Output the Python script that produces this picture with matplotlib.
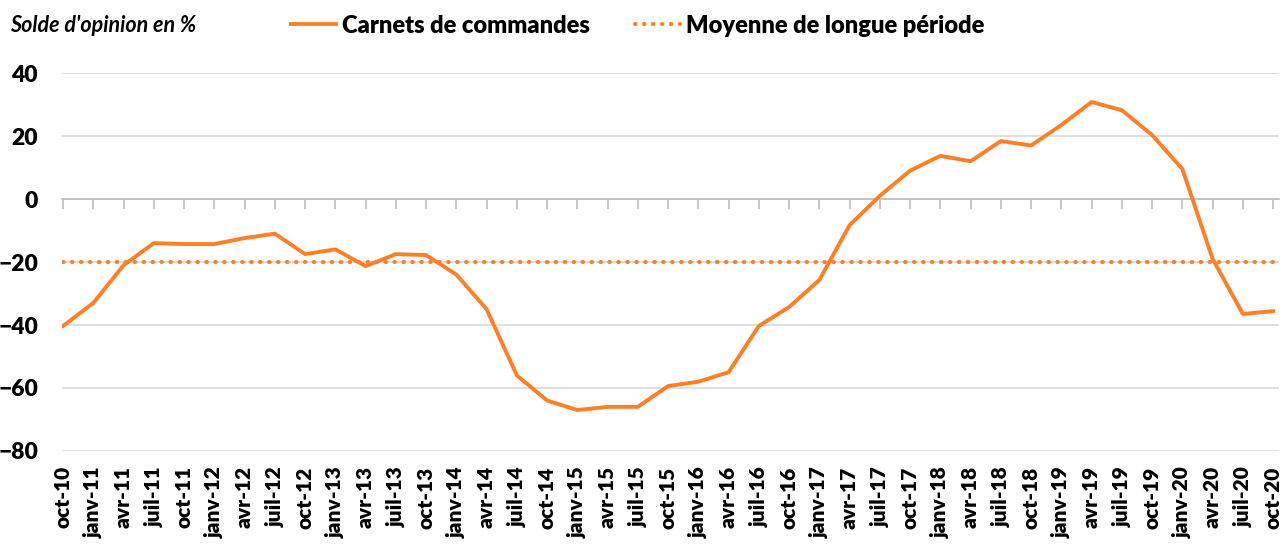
import matplotlib.pyplot as plt
import numpy as np

plt.rcParams['font.family'] = ['Lato', 'DejaVu Sans']

# quarterly dates, oct-10 to oct-20
months = ['oct', 'janv', 'avr', 'juil']
labels = []
for i in range(41):
    m = months[i % 4]
    yr = 10 + (i + 3) // 4
    labels.append(f"{m}-{yr}")

carnets = [-40.3, -33, -21, -14, -14.3, -14.3, -12.4, -11, -17.5, -16,
           -21.3, -17.5, -17.8, -24, -35, -56, -64, -67, -66, -66,
           -59.4, -58, -55, -40.3, -34.3, -25.7, -8.3, 1, 9, 13.7,
           12, 18.4, 17, 23.5, 30.8, 28.2, 20.3, 9.5, -19, -36.5, -35.6]
moyenne = -20

orange = '#FF7F27'
x = np.arange(len(labels))

fig = plt.figure(figsize=(12.83, 5.45), dpi=100)
ax = fig.add_axes([0.048, 0.1725, 0.949, 0.6935])

ax.plot(x, carnets, color=orange, lw=2.8, label='Carnets de commandes', zorder=3)
ax.plot(x, [moyenne] * len(x), color=orange, lw=3, linestyle=(0, (0.1, 2.05)),
        dash_capstyle='round', label='Moyenne de longue période', zorder=2)

ax.set_ylim(-80, 40)
ax.set_xlim(-0.05, 40.2)
ax.set_yticks(range(-80, 41, 20))
ax.yaxis.grid(True, color='#d9d9d9', lw=1.2)
ax.set_axisbelow(True)
for s in ['left', 'right', 'top']:
    ax.spines[s].set_visible(False)

# zero axis with tick marks
ax.spines['bottom'].set_position(('data', 0))
ax.spines['bottom'].set_color('#bfbfbf')
ax.spines['bottom'].set_linewidth(1.2)
ax.set_xticks(x)
ax.tick_params(axis='x', length=7, width=1.2, color='#bfbfbf', labelbottom=False)
ax.tick_params(axis='y', length=0, pad=17, labelsize=16.5)
for t in ax.get_yticklabels():
    t.set_fontweight('heavy')

# category labels at the bottom
sec = ax.secondary_xaxis('bottom')
sec.set_xticks(x, labels, rotation=90, fontsize=15, fontweight='heavy')
sec.tick_params(length=0, pad=11)
sec.spines['bottom'].set_visible(False)

fig.text(0.008, 0.953, "Solde d'opinion en %", fontsize=15.5, fontstyle='italic',
         fontweight='bold', va='center')
leg = fig.legend(loc='center', bbox_to_anchor=(0.497, 0.953), ncol=2, frameon=False,
                 prop={'size': 17, 'weight': 'heavy'}, handlelength=1.9,
                 handletextpad=0.25, columnspacing=1.9)

fig.savefig('out.png', dpi=100)
